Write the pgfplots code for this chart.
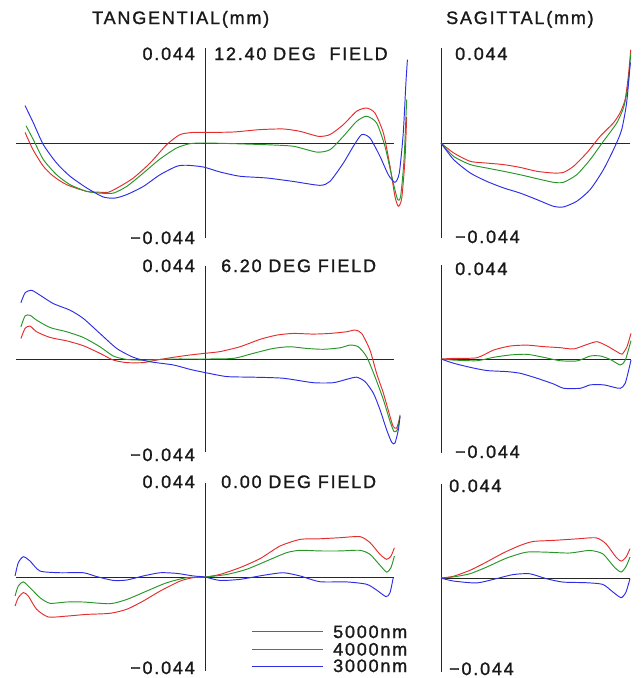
\documentclass[border=0pt]{standalone}
\usepackage{pgfplots}
\pgfplotsset{compat=1.18}
\usepackage{fontspec}
\setmainfont{Liberation Sans}[LetterSpace=10, FakeBold=1.3]
\definecolor{cR}{RGB}{228,45,45}
\definecolor{cG}{RGB}{40,150,40}
\definecolor{cB}{RGB}{45,45,230}
\pgfplotsset{fan/.style={scale only axis, axis lines=center,
  axis line style={black!85, line width=0.9pt, -},
  xtick=\empty, ytick=\empty, ymin=-0.044, ymax=0.044, clip=false,
  every axis plot/.append style={line width=0.95pt, smooth, tension=0.4, no markers}},
  tan/.style={fan, xmin=-1, xmax=1, width=378pt},
  sag/.style={fan, xmin=0, xmax=1}}
\begin{document}
\begin{tikzpicture}[x=1pt,y=1pt]
\useasboundingbox (0,0) rectangle (642,-678);
\fontsize{18}{20}\selectfont
% ---------------- 12.40 DEG tangential
\begin{axis}[tan, height=190pt, at={(16pt,-238pt)}, anchor=south west]
\addplot[cR] coordinates {(-0.952,0.0049)(-0.910,-0.0031)(-0.855,-0.0108)(-0.802,-0.0154)(-0.732,-0.0193)(-0.626,-0.0224)(-0.556,-0.0228)(-0.511,-0.0228)(-0.450,-0.0201)(-0.379,-0.0162)(-0.291,-0.0093)(-0.203,-0.0008)(-0.132,0.0039)(-0.062,0.0049)(0.009,0.0049)(0.150,0.0051)(0.291,0.0062)(0.414,0.0065)(0.503,0.0054)(0.600,0.0031)(0.661,0.0039)(0.732,0.0085)(0.802,0.0147)(0.855,0.0162)(0.899,0.0139)(0.944,0.0046)(0.979,-0.0108)(1.005,-0.0247)(1.023,-0.0293)(1.041,-0.0255)(1.058,-0.0077)(1.067,0.0120)};
\addplot[cG] coordinates {(-0.947,0.0080)(-0.908,0.0015)(-0.855,-0.0077)(-0.785,-0.0147)(-0.714,-0.0193)(-0.626,-0.0224)(-0.556,-0.0232)(-0.485,-0.0232)(-0.414,-0.0201)(-0.326,-0.0139)(-0.238,-0.0074)(-0.150,-0.0023)(-0.079,-0.0003)(0,0)(0.150,-0.0003)(0.326,-0.0008)(0.467,-0.0015)(0.591,-0.0042)(0.661,-0.0031)(0.732,0.0031)(0.802,0.0100)(0.855,0.0124)(0.908,0.0093)(0.952,-0.0015)(0.988,-0.0154)(1.018,-0.0259)(1.035,-0.0247)(1.053,-0.0077)(1.067,0.0201)};
\addplot[cB] coordinates {(-0.952,0.0173)(-0.908,0.0093)(-0.855,-0.0008)(-0.785,-0.0093)(-0.714,-0.0154)(-0.626,-0.0208)(-0.538,-0.0250)(-0.476,-0.0255)(-0.414,-0.0239)(-0.326,-0.0201)(-0.238,-0.0147)(-0.150,-0.0108)(-0.097,-0.0103)(-0.009,-0.0111)(0.079,-0.0134)(0.185,-0.0154)(0.326,-0.0162)(0.467,-0.0178)(0.608,-0.0196)(0.661,-0.0178)(0.732,-0.0093)(0.785,-0.0015)(0.829,0.0039)(0.873,0.0023)(0.926,-0.0062)(0.970,-0.0147)(1.005,-0.0182)(1.028,-0.0139)(1.049,0.0046)(1.063,0.0278)(1.071,0.0386)};
\end{axis}
% ---------------- 12.40 DEG sagittal
\begin{axis}[sag, width=189pt, height=190pt, at={(441pt,-238pt)}, anchor=south west]
\addplot[cR] coordinates {(0,0)(0.067,-0.0046)(0.155,-0.0085)(0.243,-0.0093)(0.331,-0.0100)(0.419,-0.0113)(0.507,-0.0131)(0.595,-0.0139)(0.648,-0.0136)(0.701,-0.0108)(0.771,-0.0046)(0.842,0.0031)(0.912,0.0093)(0.947,0.0139)(0.974,0.0201)(0.991,0.0309)(1.004,0.0432)};
\addplot[cG] coordinates {(0,0)(0.067,-0.0062)(0.155,-0.0100)(0.243,-0.0116)(0.331,-0.0131)(0.419,-0.0147)(0.507,-0.0165)(0.595,-0.0182)(0.648,-0.0182)(0.718,-0.0147)(0.789,-0.0077)(0.859,0.0008)(0.930,0.0093)(0.968,0.0170)(0.991,0.0278)(1.004,0.0417)};
\addplot[cB] coordinates {(0,0)(0.067,-0.0077)(0.155,-0.0139)(0.243,-0.0178)(0.331,-0.0208)(0.419,-0.0232)(0.507,-0.0262)(0.595,-0.0293)(0.648,-0.0296)(0.718,-0.0270)(0.789,-0.0216)(0.859,-0.0124)(0.921,-0.0015)(0.956,0.0062)(0.982,0.0185)(1.000,0.0355)(1.004,0.0371)};
\end{axis}
% ---------------- 6.20 DEG tangential
\begin{axis}[tan, height=186pt, at={(16pt,-452pt)}, anchor=south west]
\addplot[cR] coordinates {(-0.974,0.0097)(-0.952,0.0145)(-0.926,0.0156)(-0.891,0.0129)(-0.820,0.0102)(-0.732,0.0086)(-0.644,0.0063)(-0.556,0.0027)(-0.485,-0.0005)(-0.414,-0.0017)(-0.326,-0.0017)(-0.256,-0.0005)(-0.168,0.0008)(-0.079,0.0019)(0,0.0027)(0.079,0.0035)(0.185,0.0058)(0.291,0.0093)(0.379,0.0113)(0.467,0.0121)(0.573,0.0118)(0.661,0.0121)(0.750,0.0129)(0.794,0.0137)(0.829,0.0121)(0.873,0.0042)(0.908,-0.0068)(0.944,-0.0162)(0.979,-0.0272)(0.996,-0.0319)(1.014,-0.0327)(1.032,-0.0272)};
\addplot[cG] coordinates {(-0.974,0.0152)(-0.952,0.0204)(-0.926,0.0207)(-0.891,0.0184)(-0.820,0.0149)(-0.732,0.0129)(-0.644,0.0102)(-0.556,0.0058)(-0.485,0.0014)(-0.414,-0.0002)(-0.326,-0.0005)(-0.168,0)(0,0)(0.150,0.0003)(0.256,0.0027)(0.361,0.0050)(0.450,0.0058)(0.538,0.0050)(0.626,0.0046)(0.714,0.0053)(0.767,0.0066)(0.811,0.0058)(0.855,0.0011)(0.899,-0.0083)(0.944,-0.0193)(0.979,-0.0295)(1.000,-0.0343)(1.018,-0.0335)(1.032,-0.0264)};
\addplot[cB] coordinates {(-0.974,0.0266)(-0.952,0.0313)(-0.917,0.0325)(-0.873,0.0302)(-0.802,0.0262)(-0.714,0.0231)(-0.644,0.0192)(-0.556,0.0121)(-0.467,0.0050)(-0.379,0.0008)(-0.291,-0.0013)(-0.168,-0.0028)(-0.079,-0.0049)(0,-0.0064)(0.115,-0.0083)(0.256,-0.0086)(0.414,-0.0091)(0.573,-0.0112)(0.679,-0.0112)(0.750,-0.0096)(0.802,-0.0086)(0.847,-0.0107)(0.891,-0.0162)(0.926,-0.0240)(0.961,-0.0335)(0.988,-0.0394)(1.005,-0.0398)(1.023,-0.0335)(1.032,-0.0272)};
\end{axis}
% ---------------- 6.20 DEG sagittal
\begin{axis}[sag, width=190pt, height=188pt, at={(441pt,-453pt)}, anchor=south west]
\addplot[cR] coordinates {(0,0)(0.067,0.0003)(0.189,0.0006)(0.277,0.0042)(0.365,0.0061)(0.453,0.0065)(0.540,0.0058)(0.628,0.0053)(0.698,0.0047)(0.768,0.0068)(0.821,0.0081)(0.874,0.0061)(0.926,0.0034)(0.953,0.0023)(0.979,0.0058)(1.000,0.0120)};
\addplot[cG] coordinates {(0,0)(0.067,-0.0005)(0.189,-0.0008)(0.277,0.0008)(0.365,0.0019)(0.453,0.0022)(0.540,0.0008)(0.628,-0.0008)(0.716,-0.0009)(0.786,0.0014)(0.839,0.0014)(0.891,-0.0002)(0.944,-0.0028)(0.970,-0.0005)(1.000,0.0086)};
\addplot[cB] coordinates {(0,0)(0.067,-0.0020)(0.154,-0.0039)(0.242,-0.0054)(0.347,-0.0059)(0.418,-0.0067)(0.505,-0.0090)(0.593,-0.0117)(0.646,-0.0137)(0.733,-0.0137)(0.786,-0.0121)(0.856,-0.0121)(0.909,-0.0132)(0.944,-0.0137)(0.970,-0.0113)(1.000,-0.0005)};
\end{axis}
% ---------------- 0.00 DEG tangential
\begin{axis}[tan, height=188pt, at={(16pt,-671pt)}, anchor=south west]
\addplot[cR] coordinates {(-1.005,-0.0136)(-0.988,-0.0097)(-0.961,-0.0073)(-0.935,-0.0089)(-0.891,-0.0151)(-0.829,-0.0187)(-0.732,-0.0183)(-0.626,-0.0175)(-0.503,-0.0170)(-0.414,-0.0151)(-0.326,-0.0112)(-0.238,-0.0066)(-0.132,-0.0019)(-0.062,-0.0003)(0,0)(0.079,0.0012)(0.185,0.0044)(0.291,0.0086)(0.397,0.0145)(0.503,0.0176)(0.608,0.0179)(0.714,0.0184)(0.820,0.0189)(0.873,0.0161)(0.926,0.0106)(0.961,0.0083)(0.984,0.0098)(1.002,0.0137)};
\addplot[cG] coordinates {(-1.005,-0.0089)(-0.988,-0.0042)(-0.961,-0.0023)(-0.926,-0.0050)(-0.873,-0.0097)(-0.820,-0.0123)(-0.732,-0.0117)(-0.644,-0.0117)(-0.503,-0.0125)(-0.414,-0.0105)(-0.309,-0.0066)(-0.203,-0.0027)(-0.097,-0.0003)(0,0)(0.115,0.0012)(0.220,0.0036)(0.326,0.0075)(0.432,0.0114)(0.503,0.0125)(0.608,0.0122)(0.714,0.0122)(0.820,0.0125)(0.873,0.0106)(0.926,0.0055)(0.961,0.0023)(0.984,0.0044)(1.002,0.0098)};
\addplot[cB] coordinates {(-1.005,0.0005)(-0.988,0.0067)(-0.961,0.0095)(-0.926,0.0075)(-0.873,0.0028)(-0.767,0.0020)(-0.644,0.0020)(-0.573,0.0002)(-0.485,-0.0016)(-0.414,-0.0014)(-0.326,0.0005)(-0.238,0.0020)(-0.150,0.0017)(-0.062,0.0005)(0,0)(0.079,-0.0016)(0.185,-0.0011)(0.309,0.0008)(0.414,0.0020)(0.503,0.0005)(0.608,-0.0022)(0.750,-0.0023)(0.855,-0.0034)(0.908,-0.0061)(0.958,-0.0092)(0.979,-0.0073)(0.996,-0.0003)};
\end{axis}
% ---------------- 0.00 DEG sagittal
\begin{axis}[sag, width=189pt, height=188pt, at={(441pt,-672pt)}, anchor=south west]
\addplot[cR] coordinates {(0,0)(0.065,0.0008)(0.153,0.0036)(0.241,0.0075)(0.329,0.0117)(0.417,0.0152)(0.487,0.0171)(0.592,0.0176)(0.715,0.0183)(0.821,0.0188)(0.873,0.0160)(0.926,0.0098)(0.953,0.0079)(0.979,0.0098)(1.000,0.0137)};
\addplot[cG] coordinates {(0,0)(0.065,0.0005)(0.153,0.0020)(0.241,0.0051)(0.346,0.0093)(0.452,0.0121)(0.557,0.0121)(0.680,0.0117)(0.786,0.0129)(0.856,0.0113)(0.917,0.0051)(0.953,0.0028)(0.979,0.0054)(1.000,0.0098)};
\addplot[cB] coordinates {(0,0)(0.065,-0.0014)(0.188,-0.0023)(0.293,-0.0003)(0.381,0.0016)(0.469,0.0020)(0.557,-0.0003)(0.645,-0.0019)(0.768,-0.0022)(0.856,-0.0030)(0.909,-0.0065)(0.953,-0.0092)(0.979,-0.0065)(1.000,-0.0003)};
\end{axis}
% ---------------- texts
\tikzset{lab/.style={inner sep=0pt, text=black!90}}
\node[lab, anchor=base west] at (92,-24) {TANGENTIAL(mm)};
\node[lab, anchor=base west] at (446,-24) {SAGITTAL(mm)};
\node[lab, anchor=base east] at (195,-60) {0.044};
\node[lab, anchor=base west] at (214,-60) {12.40 DEG\ \ FIELD};
\node[lab, anchor=base east] at (195,-244) {−0.044};
\node[lab, anchor=base west] at (455,-60) {0.044};
\node[lab, anchor=base west] at (455,-243) {−0.044};
\node[lab, anchor=base east] at (195,-272) {0.044};
\node[lab, anchor=base west] at (221,-272) {6.20 DEG FIELD};
\node[lab, anchor=base east] at (195,-461) {−0.044};
\node[lab, anchor=base west] at (455,-275) {0.044};
\node[lab, anchor=base west] at (455,-458) {−0.044};
\node[lab, anchor=base east] at (195,-488) {0.044};
\node[lab, anchor=base west] at (221,-488) {0.00 DEG FIELD};
\node[lab, anchor=base east] at (195,-674) {−0.044};
\node[lab, anchor=base west] at (449,-492) {0.044};
\node[lab, anchor=base west] at (449,-675) {−0.044};
% legend
\draw[cR, line width=0.95pt] (252,-631) -- (323,-631);
\draw[cG, line width=0.95pt] (252,-649) -- (323,-649);
\draw[cB, line width=0.95pt] (252,-666) -- (323,-666);
\tikzset{leg/.style={lab, anchor=base west, text height=13pt, text depth=1.5pt}}
\node[leg] at (333,-638) {5000nm};
\node[leg] at (333,-655.5) {4000nm};
\node[leg] at (333,-672) {3000nm};
\end{tikzpicture}
\end{document}
